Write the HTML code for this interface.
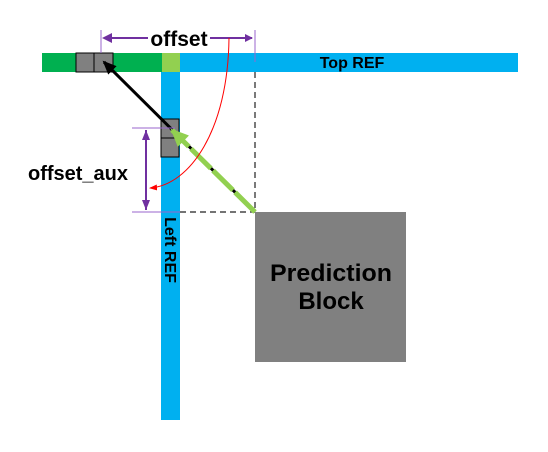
<!DOCTYPE html>
<html><head><style>body{margin:0;background:#fff}svg{display:block}text{font-family:"Liberation Sans",sans-serif;font-weight:bold}</style></head><body>
<svg width="548" height="452" viewBox="0 0 548 452">
<defs>
<marker id="pa" markerWidth="8" markerHeight="8" refX="7" refY="4" orient="auto" markerUnits="userSpaceOnUse"><path d="M0,0 L8,4 L0,8 z" fill="#7030a0"/></marker>
<marker id="ra" markerWidth="8" markerHeight="6" refX="7" refY="3" orient="auto" markerUnits="userSpaceOnUse"><path d="M0,0 L8,3 L0,6 z" fill="#f00"/></marker>
<marker id="ka" markerWidth="14" markerHeight="12" refX="12" refY="6" orient="auto" markerUnits="userSpaceOnUse"><path d="M0,0 L14,6 L0,12 z" fill="#000"/></marker>
<marker id="ga" markerWidth="18" markerHeight="16" refX="16" refY="8" orient="auto" markerUnits="userSpaceOnUse"><path d="M0,0 L18,8 L0,16 z" fill="#92d050"/></marker>
</defs>
<rect x="42" y="53" width="120" height="19" fill="#00b050"/>
<rect x="162" y="53" width="18" height="19" fill="#92d050"/>
<rect x="180" y="53" width="338" height="19" fill="#00b0f0"/>
<rect x="161" y="72" width="19" height="348" fill="#00b0f0"/>
<text x="352" y="68" font-size="16" text-anchor="middle">Top REF</text>
<text transform="translate(165,250) rotate(90)" font-size="16" text-anchor="middle">Left REF</text>
<rect x="76" y="53" width="18" height="19" fill="#808080" stroke="#000"/>
<rect x="94" y="53" width="19" height="19" fill="#808080" stroke="#000"/>
<rect x="161" y="119" width="18" height="19" fill="#808080" stroke="#000"/>
<rect x="161" y="138" width="18" height="19" fill="#808080" stroke="#000"/>
<line x1="255" y1="72" x2="255" y2="212" stroke="#222" stroke-width="1.2" stroke-dasharray="6,4"/>
<line x1="180" y1="212" x2="255" y2="212" stroke="#222" stroke-width="1.2" stroke-dasharray="6,4"/>
<rect x="255" y="212" width="151" height="150" fill="#808080"/>
<text x="331" y="281" font-size="24" text-anchor="middle" textLength="122" lengthAdjust="spacingAndGlyphs">Prediction</text>
<text x="331" y="309" font-size="24" text-anchor="middle">Block</text>
<line x1="255" y1="212" x2="104" y2="62" stroke="#000" stroke-width="3" marker-end="url(#ka)"/>
<line x1="255" y1="212" x2="172" y2="130" stroke="#92d050" stroke-width="5" stroke-dasharray="28,3" marker-end="url(#ga)"/>
<line x1="101" y1="30" x2="101" y2="53" stroke="#9966cc"/>
<line x1="255" y1="30" x2="255" y2="62" stroke="#9966cc"/>
<line x1="110" y1="38" x2="148" y2="38" stroke="#7030a0" stroke-width="2"/>
<path d="M102,38 l10,-5 v10z" fill="#7030a0"/>
<line x1="210" y1="38" x2="252" y2="38" stroke="#7030a0" stroke-width="2" marker-end="url(#pa)"/>
<text x="179" y="46" font-size="21" text-anchor="middle">offset</text>
<line x1="132" y1="128" x2="175" y2="128" stroke="#9966cc"/>
<line x1="132" y1="212" x2="180" y2="212" stroke="#9966cc"/>
<line x1="146" y1="130" x2="146" y2="210" stroke="#7030a0" stroke-width="2"/>
<path d="M146,130 l-4,10 h8z M146,210 l-4,-10 h8z" fill="#7030a0"/>
<text x="78" y="180" font-size="20" text-anchor="middle">offset_aux</text>
<path d="M229,38 C228,130 190,185 150,188" fill="none" stroke="#f00" stroke-width="1" marker-end="url(#ra)"/>
</svg>
</body></html>
